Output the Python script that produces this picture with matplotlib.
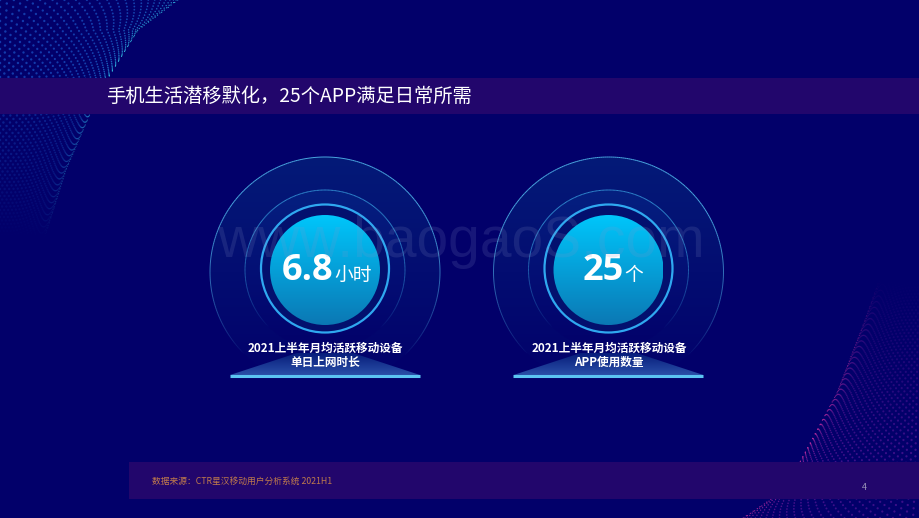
import matplotlib.pyplot as plt
import matplotlib.patches as patches
from matplotlib.collections import LineCollection
from matplotlib.colors import LinearSegmentedColormap, to_rgb
import numpy as np

plt.rcParams['font.family'] = ['Noto Sans CJK SC', 'DejaVu Sans']

BG = '#02006a'
BAND = '#22066c'

title = '手机生活潜移默化，25个APP满足日常所需'
source = '数据来源：CTR星汉移动用户分析系统 2021H1'
page = '4'
watermark = 'www.baogaoS.com'

values = ['6.8', '25']
units = ['小时', '个']
captions = ['2021上半年月均活跃移动设备\n单日上网时长', '2021上半年月均活跃移动设备\nAPP使用数量']
centers_x = [325, 608.5]
value_x = [308, 603]
unit_x = [353, 634]

fig = plt.figure(figsize=(9.2, 5.18), dpi=100, facecolor=BG)
ax = fig.add_axes([0, 0, 1, 1])
ax.set_xlim(0, 920)
ax.set_ylim(518, 0)
ax.axis('off')


def gradient(x0, x1, y0, y1, c_top, c_bottom, clip, z):
    cmap = LinearSegmentedColormap.from_list('g', [c_top, c_bottom])
    grad = np.linspace(0, 1, 256).reshape(-1, 1)
    im = ax.imshow(grad, extent=[x0, x1, y1, y0], cmap=cmap, aspect='auto', zorder=z)
    ax.add_patch(clip)
    clip.set_visible(False)
    im.set_clip_path(clip)


def ring(cx, cy, r, color, lw, z):
    # 圆环从上到下逐渐变淡
    a = np.linspace(0, 2 * np.pi, 361)
    x = cx + r * np.cos(a)
    y = cy + r * np.sin(a)
    pts = np.column_stack([x, y]).reshape(-1, 1, 2)
    segs = np.concatenate([pts[:-1], pts[1:]], axis=1)
    alpha = np.clip((cy + 0.72 * r - y[:-1]) / (1.3 * r), 0, 1) ** 0.7
    rgba = np.zeros((len(segs), 4))
    rgba[:, :3] = to_rgb(color)
    rgba[:, 3] = alpha
    ax.add_collection(LineCollection(segs, colors=rgba, linewidths=lw, zorder=z))


def dots_top_left():
    # 左上角的点阵曲面
    xs, ys, cs, ss = [], [], [], []
    for row in range(0, 52):
        y0 = row * 7.0
        for col in range(0, 44):
            t = col / 43
            y = (y0 + 3.5 * (col % 2)) * (1 - 0.3 * t ** 3)
            if y > 238:
                continue
            edge = np.interp(y, [0, 30, 78, 114, 170, 240], [178, 138, 108, 90, 66, 44])
            x = edge * (1 - (1 - t) ** 1.7)
            fade = np.clip((238 - y) / 170, 0, 1) * (1.0 if y < 78 else 0.8)
            bright = t ** 5
            xs.append(x)
            ys.append(y)
            cs.append((0.1 + 0.1 * bright, 0.33 + 0.42 * bright, 0.78 + 0.1 * bright, fade * (0.7 + 0.3 * bright)))
            ss.append(3.2 - 2.5 * t)
    ax.scatter(xs, ys, s=ss, c=cs, linewidths=0, zorder=1)


def dots_bottom_right():
    # 右下角的点阵曲面
    xs, ys, cs, ss = [], [], [], []
    for row in range(0, 52):
        y0 = 518 - row * 6.5
        for col in range(0, 44):
            t = col / 43
            h = ((518 - y0) + 3.2 * (col % 2)) * (1 - 0.3 * t ** 3)
            y = 518 - h
            if y < 280:
                continue
            w = np.interp(h, [0, 18, 56, 125, 198, 240], [177, 150, 120, 83, 55, 40])
            x = 920 - w * (1 - (1 - t) ** 1.7)
            fade = np.clip((y - 280) / 170, 0, 1)
            bright = t ** 5
            xs.append(x)
            ys.append(y)
            cs.append((0.38 + 0.38 * bright, 0.1 + 0.08 * bright, 0.62, fade * (0.6 + 0.4 * bright)))
            ss.append(2.8 - 2.1 * t)
    ax.scatter(xs, ys, s=ss, c=cs, linewidths=0, zorder=1)


dots_top_left()
dots_bottom_right()

# 标题和底部色带
ax.add_patch(patches.Rectangle((0, 78), 920, 36, fc=BAND, ec='none', zorder=2))
ax.add_patch(patches.Rectangle((129, 462), 791, 37, fc=BAND, ec='none', zorder=2))
ax.text(106, 96, title, color='white', fontsize=13.9, va='center', ha='left', zorder=5)
ax.text(152, 481.5, source, color='#c07a4c', fontsize=6.3, va='center', ha='left', zorder=5)
ax.text(864, 487.5, page, color='#9a94b8', fontsize=6.5, va='center', ha='center', zorder=5)

for i in range(len(values)):
    cx = centers_x[i]
    # 外圈
    gradient(cx - 115, cx + 115, 157, 387, '#041a78', '#02006a',
             patches.Circle((cx, 272), 115, transform=ax.transData), 3)
    ring(cx, 272, 115, '#4aa8e0', 0.7, 3.1)
    gradient(cx - 80, cx + 80, 190, 350, '#052080', '#02006a',
             patches.Circle((cx, 270), 80, transform=ax.transData), 3.2)
    ring(cx, 270, 80, '#2f86cc', 0.7, 3.3)
    # 亮环和中心圆
    ax.add_patch(patches.Circle((cx, 268.5), 64, fc='#03106e', ec='#2fa8f0', lw=1.6, zorder=3.4))
    gradient(cx - 55, cx + 55, 215, 325, '#00c6fb', '#0b78b4',
             patches.Circle((cx, 270), 55, transform=ax.transData), 3.5)
    ax.text(value_x[i], 271, values[i], color='white', fontsize=26, fontweight='bold',
            family=['Open Sans', 'Noto Sans CJK SC'], va='center', ha='center', zorder=5)
    ax.text(unit_x[i], 276, units[i], color='white', fontsize=13.5, va='center', ha='center', zorder=5)
    # 底座
    gradient(cx - 95, cx + 95, 352, 375, '#051a78', '#2a4fa8',
             patches.Polygon([(cx - 95, 375), (cx - 28, 353), (cx + 28, 353), (cx + 95, 375)],
                             transform=ax.transData), 3.6)
    ax.plot([cx - 95, cx + 95], [375.5, 375.5], color='#5cc4f2', lw=2.2, solid_capstyle='butt', zorder=3.7)
    ax.text(cx + 0.5, 355.5, captions[i], color='white', fontsize=8.4, fontweight='bold',
            linespacing=1.05, va='center', ha='center', zorder=5)

# 水印
ax.text(461, 242, watermark, color='#8a94c8', alpha=0.16, fontsize=41, va='center', ha='center',
        family=['Liberation Sans'], zorder=6)

ax.set_xlim(0, 920)
ax.set_ylim(518, 0)
fig.savefig('out.png', dpi=100, facecolor=BG)
